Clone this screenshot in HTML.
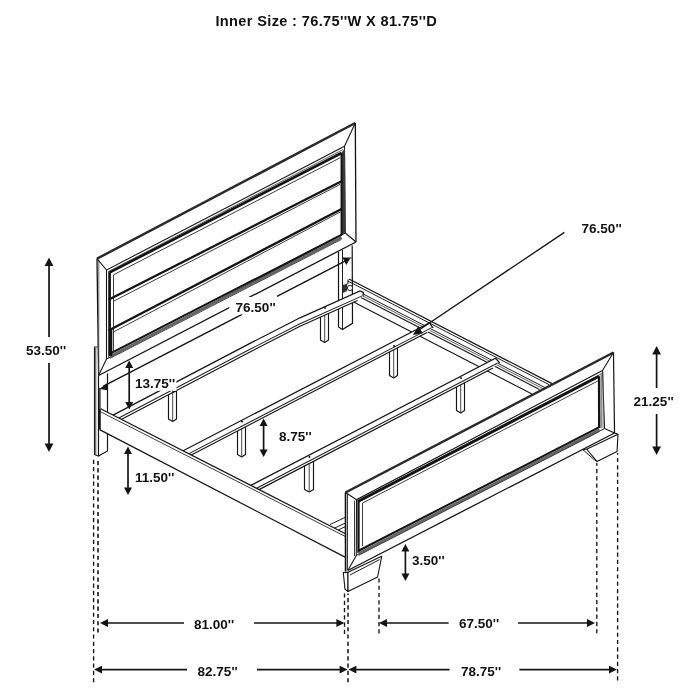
<!DOCTYPE html>
<html><head><meta charset="utf-8"><title>Bed dimensions</title>
<style>html,body{margin:0;padding:0;background:#fff;overflow:hidden}svg{display:block;will-change:transform}text{font-family:"Liberation Sans",sans-serif;font-weight:700;fill:#111}</style></head>
<body><svg width="700" height="700" viewBox="0 0 700 700">
<rect width="700" height="700" fill="#fff"/>
<path d="M97.5 347.0 L94.5 347.0 L94.5 454.5 L98.3 456.0" stroke="#222" stroke-width="1.2" fill="none" />
<path d="M95.7 348.0 L95.7 455.0" stroke="#666" stroke-width="1.2" fill="none" />
<path d="M98.5 376.0 L98.5 456.0 L107.5 451.0 L107.5 373.5" stroke="#141414" stroke-width="1.2" fill="none" />
<path d="M338.5 252.0 L338.5 327.0 L342.5 329.5 L352.5 323.3 L352.2 245.5" stroke="#141414" stroke-width="1.2" fill="none" />
<path d="M342.5 250.0 L342.5 329.5" stroke="#141414" stroke-width="0.96" fill="none" />
<path d="M97.0 258.7 L355.3 123.0 L356.0 242.0 L98.6 375.5Z" fill="#fff"/>
<path d="M97.0 258.7 L355.3 123.0" stroke="#2a2a2a" stroke-width="2.5" fill="none" />
<path d="M355.3 123.0 L356.0 242.0" stroke="#141414" stroke-width="1.32" fill="none" />
<path d="M356.0 242.0 L98.6 375.5" stroke="#141414" stroke-width="1.32" fill="none" />
<path d="M98.6 375.5 L97.0 258.7" stroke="#141414" stroke-width="1.32" fill="none" />
<path d="M98.8 374.0 L98.8 260.5" stroke="#555" stroke-width="0.84" fill="none" />
<path d="M106.5 359.0 L106.5 270.0 L344.5 146.3" stroke="#141414" stroke-width="1.08" fill="none" />
<path d="M344.5 146.3 L345.3 233.0 L106.5 359.0" stroke="#141414" stroke-width="1.08" fill="none" />
<path d="M108.5 357.5 L108.5 271.5 L343.0 149.5" stroke="#444" stroke-width="0.84" fill="none" />
<path d="M97.0 258.7 L106.5 270.0" stroke="#141414" stroke-width="1.08" fill="none" />
<path d="M355.3 123.0 L344.5 146.3" stroke="#141414" stroke-width="1.08" fill="none" />
<path d="M356.0 242.0 L345.3 233.0" stroke="#141414" stroke-width="1.08" fill="none" />
<path d="M98.6 375.5 L106.5 359.0" stroke="#141414" stroke-width="1.08" fill="none" />
<path d="M341.0 153.5 L345.0 148.0 L345.3 232.5 L341.0 235.0Z" fill="#3a3a3a"/>
<path d="M109.8 356.0 L109.8 272.3" stroke="#141414" stroke-width="2.2" fill="none" />
<path d="M109.3 272.6 L341.5 153.0" stroke="#141414" stroke-width="2.7" fill="none" />
<path d="M341.5 153.0 L341.5 235.0" stroke="#141414" stroke-width="1.92" fill="none" />
<path d="M110.0 356.6 L341.5 237.6" stroke="#666" stroke-width="2.8" fill="none" />
<path d="M110.0 358.4 L341.5 239.4" stroke="#333" stroke-width="0.84" fill="none" />
<path d="M109.5 353.9 L341.8 234.7" stroke="#141414" stroke-width="2.0" fill="none" />
<path d="M110.6 329.0 L110.6 356.0" stroke="#141414" stroke-width="3.4" fill="none" />
<path d="M113.5 351.0 L113.5 274.8 L340.5 157.6" stroke="#333" stroke-width="0.96" fill="none" />
<path d="M110.0 299.0 L341.5 181.3" stroke="#141414" stroke-width="2.3" fill="none" />
<path d="M113.4 301.3 L340.5 184.2" stroke="#333" stroke-width="0.96" fill="none" />
<path d="M108.0 299.0 L110.0 299.0" stroke="#141414" stroke-width="0.96" fill="none" />
<path d="M110.0 329.7 L341.5 209.0" stroke="#141414" stroke-width="2.3" fill="none" />
<path d="M113.4 332.0 L340.5 211.9" stroke="#333" stroke-width="0.96" fill="none" />
<path d="M108.0 329.7 L110.0 329.7" stroke="#141414" stroke-width="0.96" fill="none" />
<path d="M349.0 279.0 L552.0 383.6" stroke="#141414" stroke-width="1.2" fill="none" />
<path d="M348.0 281.1 L549.0 384.6" stroke="#141414" stroke-width="0.96" fill="none" />
<path d="M362.0 293.4 L545.0 387.6" stroke="#141414" stroke-width="0.96" fill="none" />
<path d="M362.0 295.5 L543.0 388.7" stroke="#444" stroke-width="0.84" fill="none" />
<path d="M360.0 297.0 L539.5 389.4" stroke="#141414" stroke-width="1.08" fill="none" />
<path d="M354.0 302.2 L532.0 393.9" stroke="#141414" stroke-width="1.08" fill="none" />
<path d="M348.0 279.5 L348.0 284.0" stroke="#141414" stroke-width="1.08" fill="none" />
<circle cx="350" cy="288" r="2.6" fill="#fff" stroke="#141414" stroke-width="0.9"/>
<path d="M343.0 285.0 L347.5 283.5 L347.0 291.0 L343.0 293.0Z" fill="#333"/>
<path d="M168.5 394.0 L168.5 418.9 L172.7 421.4 L176.5 418.9 L176.5 391.0Z" fill="#fff" stroke="#141414" stroke-width="1.15" stroke-linejoin="round"/>
<path d="M172.7 393.0 L172.7 421.4" stroke="#333" stroke-width="0.9" fill="none" />
<path d="M320.5 311.0 L320.5 339.9 L324.7 342.4 L328.5 339.9 L328.5 308.0Z" fill="#fff" stroke="#141414" stroke-width="1.15" stroke-linejoin="round"/>
<path d="M324.7 310.0 L324.7 342.4" stroke="#333" stroke-width="0.9" fill="none" />
<path d="M104.0 419.9 L250.0 343.4 L300.0 317.8 L360.0 291.0 L363.5 292.3 L363.0 296.2 L357.5 300.6 L300.0 326.3 L250.0 351.9 L104.0 428.4Z" fill="#fff"/>
<path d="M104.0 419.9 L250.0 343.4 L300.0 317.8 L360.0 291.0 L363.5 292.3 L363.0 296.2" stroke="#141414" stroke-width="1.26" fill="none" />
<path d="M104.0 425.8 L250.0 349.3 L300.0 323.7 L362.2 295.9" stroke="#222" stroke-width="1.02" fill="none" />
<path d="M104.0 428.4 L250.0 351.9 L300.0 326.3 L357.5 300.6" stroke="#141414" stroke-width="1.14" fill="none" />
<circle cx="173.0" cy="391.0" r="0.9" fill="#000"/>
<circle cx="325.0" cy="308.0" r="0.9" fill="#000"/>
<path d="M237.5 424.5 L237.5 454.5 L241.7 457.0 L245.5 454.5 L245.5 421.5Z" fill="#fff" stroke="#141414" stroke-width="1.15" stroke-linejoin="round"/>
<path d="M241.7 423.5 L241.7 457.0" stroke="#333" stroke-width="0.9" fill="none" />
<path d="M389.5 349.0 L389.5 375.5 L393.7 378.0 L397.5 375.5 L397.5 346.0Z" fill="#fff" stroke="#141414" stroke-width="1.15" stroke-linejoin="round"/>
<path d="M393.7 348.0 L393.7 378.0" stroke="#333" stroke-width="0.9" fill="none" />
<path d="M174.0 455.5 L429.5 322.8 L432.8 327.6 L432.5 327.9 L427.0 332.6 L174.0 464.0Z" fill="#fff"/>
<path d="M174.0 455.5 L429.5 322.8 L432.8 327.6 L432.5 327.9" stroke="#141414" stroke-width="1.26" fill="none" />
<path d="M174.0 461.4 L431.7 327.6" stroke="#222" stroke-width="1.02" fill="none" />
<path d="M174.0 464.0 L427.0 332.6" stroke="#141414" stroke-width="1.14" fill="none" />
<circle cx="242.0" cy="421.5" r="0.9" fill="#000"/>
<circle cx="394.0" cy="346.0" r="0.9" fill="#000"/>
<path d="M304.5 460.0 L304.5 489.5 L309.2 492.0 L313.5 489.5 L313.5 457.0Z" fill="#fff" stroke="#141414" stroke-width="1.15" stroke-linejoin="round"/>
<path d="M309.2 459.0 L309.2 492.0" stroke="#333" stroke-width="0.9" fill="none" />
<path d="M456.5 381.0 L456.5 410.5 L460.7 413.0 L464.5 410.5 L464.5 378.0Z" fill="#fff" stroke="#141414" stroke-width="1.15" stroke-linejoin="round"/>
<path d="M460.7 380.0 L460.7 413.0" stroke="#333" stroke-width="0.9" fill="none" />
<path d="M241.0 490.5 L495.5 358.2 L499.3 362.3 L498.5 363.3 L493.0 368.0 L241.0 499.0Z" fill="#fff"/>
<path d="M241.0 490.5 L495.5 358.2 L499.3 362.3 L498.5 363.3" stroke="#141414" stroke-width="1.26" fill="none" />
<path d="M241.0 496.4 L497.7 363.0" stroke="#222" stroke-width="1.02" fill="none" />
<path d="M241.0 499.0 L493.0 368.0" stroke="#141414" stroke-width="1.14" fill="none" />
<circle cx="309.5" cy="457.0" r="0.9" fill="#000"/>
<circle cx="461.0" cy="378.0" r="0.9" fill="#000"/>
<path d="M330.0 524.5 L345.5 517.3" stroke="#141414" stroke-width="0.96" fill="none" />
<path d="M334.0 528.3 L345.5 523.0" stroke="#141414" stroke-width="0.96" fill="none" />
<path d="M337.5 530.3 L345.5 526.5" stroke="#141414" stroke-width="0.96" fill="none" />
<path d="M100.6 408.7 L346.0 534.0 L346.0 557.6 L99.6 429.6Z" fill="#fff"/>
<path d="M100.6 408.7 L346.0 534.0" stroke="#141414" stroke-width="1.2" fill="none" />
<path d="M100.0 411.5 L346.0 536.8" stroke="#333" stroke-width="0.96" fill="none" />
<path d="M99.6 429.6 L346.0 557.6" stroke="#141414" stroke-width="1.2" fill="none" />
<path d="M99.8 409.0 L99.8 429.6" stroke="#141414" stroke-width="1.92" fill="none" />
<path d="M99.9 388.0 L99.9 409.0" stroke="#141414" stroke-width="1.32" fill="none" />
<path d="M343.3 572.5 L348.0 572.3 L348.0 591.5 L345.0 589.3Z" fill="#fff" stroke="#141414" stroke-width="1.1" stroke-linejoin="round"/>
<path d="M348.0 572.3 L381.7 556.3 L377.6 577.0 L348.0 591.5Z" fill="#fff" stroke="#141414" stroke-width="1.1" stroke-linejoin="round"/>
<path d="M350.0 575.0 L379.5 559.6" stroke="#141414" stroke-width="0.96" fill="none" />
<path d="M586.5 449.2 L618.0 434.2 L617.0 451.5 L597.0 461.5Z" fill="#fff" stroke="#141414" stroke-width="1.1" stroke-linejoin="round"/>
<path d="M583.0 449.8 L586.5 449.2 L597.0 461.5 L595.0 460.3Z" fill="#fff" stroke="#141414" stroke-width="1.0" stroke-linejoin="round"/>
<path d="M345.5 492.5 L613.5 352.5 L614.5 433.0 L347.8 570.5 L345.5 571.0Z" fill="#fff"/>
<path d="M345.5 492.5 L613.5 352.5" stroke="#2a2a2a" stroke-width="2.5" fill="none" />
<path d="M613.5 352.5 L614.5 433.0" stroke="#141414" stroke-width="1.2" fill="none" />
<path d="M614.5 433.0 L347.8 570.5" stroke="#141414" stroke-width="1.32" fill="none" />
<path d="M345.6 571.5 L345.5 492.5" stroke="#141414" stroke-width="1.68" fill="none" />
<path d="M347.5 570.0 L347.5 494.0" stroke="#333" stroke-width="0.96" fill="none" />
<path d="M356.3 555.5 L356.5 499.7 L602.5 370.5" stroke="#141414" stroke-width="1.08" fill="none" />
<path d="M602.5 370.5 L604.5 428.5" stroke="#141414" stroke-width="1.08" fill="none" />
<path d="M604.5 428.5 L356.3 555.5" stroke="#141414" stroke-width="0.96" fill="none" />
<path d="M354.5 556.0 L354.5 500.6" stroke="#333" stroke-width="0.96" fill="none" />
<path d="M357.0 501.0 L601.0 374.0" stroke="#444" stroke-width="0.84" fill="none" />
<path d="M345.5 492.5 L356.5 499.7" stroke="#141414" stroke-width="1.08" fill="none" />
<path d="M613.5 352.5 L602.5 370.5" stroke="#141414" stroke-width="1.08" fill="none" />
<path d="M614.5 433.0 L604.5 428.5" stroke="#141414" stroke-width="1.08" fill="none" />
<path d="M347.8 570.5 L356.3 555.5" stroke="#141414" stroke-width="1.08" fill="none" />
<path d="M614.5 433.0 L618.0 434.2" stroke="#141414" stroke-width="1.2" fill="none" />
<path d="M601.2 373.0 L601.2 428.0" stroke="#555" stroke-width="0.96" fill="none" />
<path d="M603.0 371.5 L603.0 428.0" stroke="#666" stroke-width="0.84" fill="none" />
<path d="M358.5 553.0 L358.5 501.3" stroke="#141414" stroke-width="2.3" fill="none" />
<path d="M358.0 501.6 L599.0 376.3" stroke="#141414" stroke-width="2.8" fill="none" />
<path d="M599.0 376.3 L599.2 428.0" stroke="#141414" stroke-width="2.3" fill="none" />
<path d="M358.5 553.7 L599.6 429.8" stroke="#666" stroke-width="2.8" fill="none" />
<path d="M358.5 555.4 L599.6 431.5" stroke="#333" stroke-width="0.84" fill="none" />
<path d="M358.0 551.0 L599.8 426.9" stroke="#141414" stroke-width="2.0" fill="none" />
<path d="M362.5 546.0 L362.5 503.0 L597.8 381.0" stroke="#333" stroke-width="0.96" fill="none" />
<path d="M49.0 263.0 L49.0 337.0" stroke="#141414" stroke-width="1.7" fill="none" />
<path d="M49.0 257.5 L44.6 266.0 L53.4 266.0Z" fill="#141414"/>
<path d="M49.0 363.0 L49.0 446.0" stroke="#141414" stroke-width="1.7" fill="none" />
<path d="M49.0 452.0 L44.6 443.5 L53.4 443.5Z" fill="#141414"/>
<text x="26" y="355" font-size="13.5" text-anchor="start" letter-spacing="0">53.50''</text>
<path d="M103.0 386.4 L242.0 314.4" stroke="#141414" stroke-width="1.44" fill="none" />
<path d="M277.0 296.3 L346.0 260.6" stroke="#141414" stroke-width="1.44" fill="none" />
<path d="M99.3 389.0 L107.2 383.2 L107.8 390.3Z" fill="#141414"/>
<path d="M350.3 258.3 L342.6 257.7 L346.3 265.0Z" fill="#141414"/>
<path d="M342.5 258.0 L351.7 258.0" stroke="#141414" stroke-width="0.96" fill="none" />
<rect x="229.3" y="297" width="46.5" height="17.3" fill="#fff"/>
<text x="235.6" y="311.6" font-size="13.5" text-anchor="start" letter-spacing="0">76.50''</text>
<path d="M564.4 232.4 L419.0 330.0" stroke="#141414" stroke-width="1.32" fill="none" />
<path d="M412.8 335.0 L418.3 326.3 L422.8 333.3Z" fill="#141414"/>
<text x="581.6" y="232.6" font-size="13.5" text-anchor="start" letter-spacing="0">76.50''</text>
<path d="M129.2 366.0 L129.2 404.0" stroke="#141414" stroke-width="1.7" fill="none" />
<path d="M129.2 360.5 L125.2 368.0 L133.2 368.0Z" fill="#141414"/>
<path d="M129.2 409.5 L125.2 402.0 L133.2 402.0Z" fill="#141414"/>
<rect x="133" y="375.8" width="43.4" height="15" fill="#fff"/>
<text x="135" y="388" font-size="13.5" text-anchor="start" letter-spacing="0">13.75''</text>
<path d="M263.6 423.0 L263.6 452.0" stroke="#141414" stroke-width="1.7" fill="none" />
<path d="M263.6 418.4 L259.6 425.9 L267.6 425.9Z" fill="#141414"/>
<path d="M263.6 457.0 L259.6 449.5 L267.6 449.5Z" fill="#141414"/>
<text x="279" y="441" font-size="13.5" text-anchor="start" letter-spacing="0">8.75''</text>
<path d="M128.0 452.0 L128.0 490.0" stroke="#141414" stroke-width="1.7" fill="none" />
<path d="M128.0 446.5 L124.0 454.0 L132.0 454.0Z" fill="#141414"/>
<path d="M128.0 495.0 L124.0 487.5 L132.0 487.5Z" fill="#141414"/>
<text x="135" y="482" font-size="13.5" text-anchor="start" letter-spacing="0">11.50''</text>
<path d="M656.6 351.0 L656.6 388.0" stroke="#141414" stroke-width="1.7" fill="none" />
<path d="M656.6 346.0 L652.2 354.5 L661.0 354.5Z" fill="#141414"/>
<path d="M656.6 414.0 L656.6 450.0" stroke="#141414" stroke-width="1.7" fill="none" />
<path d="M656.6 455.0 L652.2 446.5 L661.0 446.5Z" fill="#141414"/>
<text x="633.6" y="405.6" font-size="13.5" text-anchor="start" letter-spacing="0">21.25''</text>
<path d="M405.4 549.0 L405.4 576.0" stroke="#141414" stroke-width="1.7" fill="none" />
<path d="M405.4 544.0 L401.4 551.5 L409.4 551.5Z" fill="#141414"/>
<path d="M405.4 581.0 L401.4 573.5 L409.4 573.5Z" fill="#141414"/>
<text x="412" y="565" font-size="13.5" text-anchor="start" letter-spacing="0">3.50''</text>
<path d="M106.0 623.0 L184.0 623.0" stroke="#141414" stroke-width="1.7" fill="none" />
<path d="M254.0 623.0 L338.0 623.0" stroke="#141414" stroke-width="1.7" fill="none" />
<path d="M100.0 623.0 L108.0 619.1 L108.0 626.9Z" fill="#141414"/>
<path d="M344.4 623.0 L336.4 619.1 L336.4 626.9Z" fill="#141414"/>
<path d="M386.0 623.0 L448.6 623.0" stroke="#141414" stroke-width="1.7" fill="none" />
<path d="M518.0 623.0 L588.0 623.0" stroke="#141414" stroke-width="1.7" fill="none" />
<path d="M379.0 623.0 L387.0 619.1 L387.0 626.9Z" fill="#141414"/>
<path d="M595.0 623.0 L587.0 619.1 L587.0 626.9Z" fill="#141414"/>
<text x="194" y="628.6" font-size="13.5" text-anchor="start" letter-spacing="0">81.00''</text>
<text x="459" y="627.6" font-size="13.5" text-anchor="start" letter-spacing="0">67.50''</text>
<path d="M100.0 669.6 L187.0 669.6" stroke="#141414" stroke-width="1.7" fill="none" />
<path d="M257.0 669.6 L341.0 669.6" stroke="#141414" stroke-width="1.7" fill="none" />
<path d="M94.0 669.6 L102.0 665.7 L102.0 673.5Z" fill="#141414"/>
<path d="M347.6 669.6 L339.6 665.7 L339.6 673.5Z" fill="#141414"/>
<path d="M355.0 669.6 L449.6 669.6" stroke="#141414" stroke-width="1.7" fill="none" />
<path d="M519.4 669.6 L610.0 669.6" stroke="#141414" stroke-width="1.7" fill="none" />
<path d="M348.4 669.6 L356.4 665.7 L356.4 673.5Z" fill="#141414"/>
<path d="M617.0 669.6 L609.0 665.7 L609.0 673.5Z" fill="#141414"/>
<text x="197.6" y="675.6" font-size="13.5" text-anchor="start" letter-spacing="0">82.75''</text>
<text x="461" y="675.6" font-size="13.5" text-anchor="start" letter-spacing="0">78.75''</text>
<path d="M93.6 682.3 L93.6 459" stroke="#141414" stroke-width="1.35" stroke-dasharray="4.15 3.13" fill="none"/>
<path d="M98 632.6 L98 459" stroke="#141414" stroke-width="1.6" stroke-dasharray="4.15 3.13" fill="none"/>
<path d="M344.5 634 L344.5 592" stroke="#141414" stroke-width="1.35" stroke-dasharray="4.15 3.13" fill="none"/>
<path d="M348 682.3 L348 593.5" stroke="#141414" stroke-width="1.5" stroke-dasharray="4.15 3.13" fill="none"/>
<path d="M379 633.5 L379 578" stroke="#141414" stroke-width="1.35" stroke-dasharray="4.15 3.13" fill="none"/>
<path d="M596.8 633.3 L596.8 463" stroke="#141414" stroke-width="1.35" stroke-dasharray="4.15 3.13" fill="none"/>
<path d="M617.6 680.5 L617.6 453" stroke="#141414" stroke-width="1.35" stroke-dasharray="4.15 3.13" fill="none"/>
<text x="215.4" y="26" font-size="14.6" text-anchor="start" letter-spacing="0.34">Inner Size : 76.75''W X 81.75''D</text>
</svg></body></html>
